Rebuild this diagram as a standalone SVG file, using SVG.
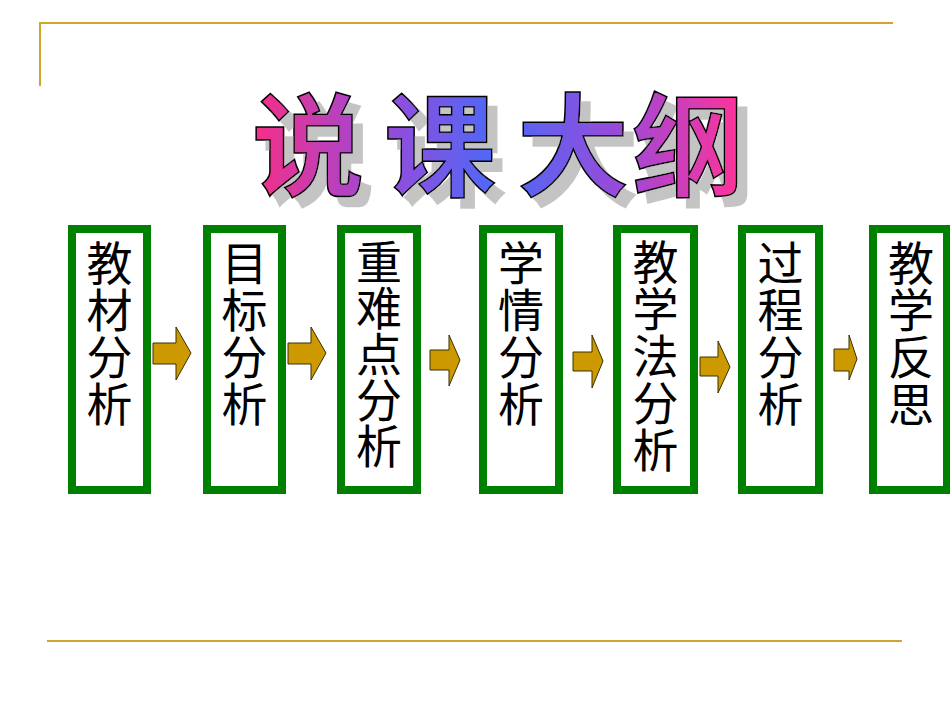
<svg xmlns="http://www.w3.org/2000/svg" width="950" height="713" viewBox="0 0 950 713">
  <defs>
    <linearGradient id="titleGrad" gradientUnits="userSpaceOnUse" x1="260" y1="0" x2="740" y2="0">
      <stop offset="0" stop-color="#f0308a"/>
      <stop offset="0.25" stop-color="#9a4ad8"/>
      <stop offset="0.5" stop-color="#4a6af8"/>
      <stop offset="0.75" stop-color="#9a4ad8"/>
      <stop offset="1" stop-color="#ff3399"/>
    </linearGradient>
    <filter id="shadow" x="-10%" y="-20%" width="130%" height="150%">
      <feOffset in="SourceAlpha" dx="10" dy="10" result="off"/>
      <feFlood flood-color="#c4c4c4" result="gray"/>
      <feComposite in="gray" in2="off" operator="in" result="sh"/>
      <feMerge>
        <feMergeNode in="sh"/>
        <feMergeNode in="SourceGraphic"/>
      </feMerge>
    </filter>
    <style>
      .rule { stroke: #d2a530; stroke-width: 2; fill: none; }
      .box { fill: #ffffff; stroke: #008000; stroke-width: 8; }
      .label { font-family: "Noto Sans CJK SC", "Noto Sans", sans-serif; font-size: 46px; fill: #000; writing-mode: vertical-rl; letter-spacing: 1px; }
      .tight { letter-spacing: 0px; }
      .arrow { fill: #cc9900; stroke: #3a3000; stroke-width: 1; stroke-linejoin: miter; }
      .title { font-family: "Noto Sans CJK SC", sans-serif; font-weight: 700; font-size: 112px; text-anchor: middle; fill: url(#titleGrad); stroke: #000; stroke-width: 1.5; }
    </style>
  </defs>

  <rect x="0" y="0" width="950" height="713" fill="#ffffff"/>

  <g id="frame">
    <line class="rule" x1="39" y1="23" x2="893" y2="23"/>
    <line class="rule" x1="40" y1="22" x2="40" y2="86"/>
    <line class="rule" x1="47" y1="641" x2="902" y2="641"/>
  </g>

  <g id="title" class="title" filter="url(#shadow)">
    <text x="308" y="188">说</text>
    <text x="440" y="188">课</text>
    <text x="573" y="188">大</text>
    <text x="688" y="188">纲</text>
  </g>

  <g id="node1">
    <rect class="box" x="72" y="229" width="75" height="261"/>
    <text class="label" x="109.5" y="240">教材分析</text>
  </g>
  <g id="node2">
    <rect class="box" x="207" y="229" width="75" height="261"/>
    <text class="label" x="244.5" y="240">目标分析</text>
  </g>
  <g id="node3">
    <rect class="box" x="341" y="229" width="76" height="261"/>
    <text class="label tight" x="379" y="239">重难点分析</text>
  </g>
  <g id="node4">
    <rect class="box" x="483" y="229" width="76" height="261"/>
    <text class="label" x="521" y="240">学情分析</text>
  </g>
  <g id="node5">
    <rect class="box" x="617" y="229" width="77" height="261"/>
    <text class="label" x="655.5" y="239">教学法分析</text>
  </g>
  <g id="node6">
    <rect class="box" x="742" y="229" width="77" height="261"/>
    <text class="label" x="780.5" y="240">过程分析</text>
  </g>
  <g id="node7">
    <rect class="box" x="873" y="229" width="74" height="261"/>
    <text class="label" x="911" y="240">教学反思</text>
  </g>

  <g id="connectors">
    <polygon class="arrow" points="153,343 176,343 176,327 191,353 176,380 176,364 153,364"/>
    <polygon class="arrow" points="288,343 311,343 311,327 326,353 311,380 311,364 288,364"/>
    <polygon class="arrow" points="430,350 449,350 449,335 460,360 449,386 449,370 430,370"/>
    <polygon class="arrow" points="573,352 592,352 592,335 603,361 592,388 592,371 573,371"/>
    <polygon class="arrow" points="700,357 718,357 718,341 730,367 718,393 718,376 700,376"/>
    <polygon class="arrow" points="834,349 849,349 849,335 857,359 849,380 849,371 834,371"/>
  </g>
</svg>
